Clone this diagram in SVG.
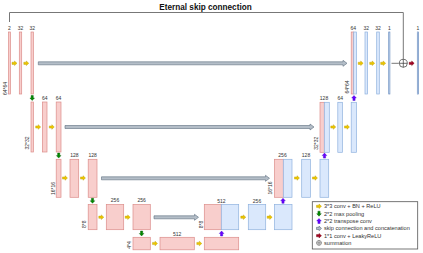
<svg xmlns="http://www.w3.org/2000/svg" xmlns:xlink="http://www.w3.org/1999/xlink" width="423" height="253" viewBox="0 0 423 253">
<style>
.enc{fill:#f8cecc;stroke:#dc8d8a;stroke-width:0.7}
.dec{fill:#dae8fc;stroke:#8fb1de;stroke-width:0.7}
.thin{fill:#dae8fc;stroke:#6c8ebf;stroke-width:0.7}
.lbl{font-family:"Liberation Sans",Arial,sans-serif;font-size:5px;fill:#333;text-anchor:middle}
.rot{font-family:"Liberation Sans",Arial,sans-serif;font-size:5px;fill:#333;text-anchor:middle;dominant-baseline:central}
.leg{font-family:"Liberation Sans",Arial,sans-serif;font-size:5.6px;fill:#333}
.title{font-family:"Liberation Sans",Arial,sans-serif;font-size:8.2px;font-weight:bold;fill:#111;text-anchor:middle}
.skip{fill:#b4bec8;stroke:#5c6d7e;stroke-width:0.6}
.y{fill:#ecc600;stroke:#b89a00;stroke-width:0.4}
.g{fill:#008a00;stroke:#005700;stroke-width:0.4}
.p{fill:#6a00ff;stroke:#3700cc;stroke-width:0.4}
.r{fill:#a20025;stroke:#6f0000;stroke-width:0.4}
.line{fill:none;stroke:#777;stroke-width:1}
.sum{fill:#fff;stroke:#333;stroke-width:0.7}
</style>
<defs>
<path id="arr" d="M-2.5,-1.1H0V-2.3L2.5,0L0,2.3V1.1H-2.5Z"/>
</defs>

<text class="title" x="205.5" y="9.5">Eternal skip connection</text>

<!-- Encoder level 1 -->
<g id="e1a"><rect class="enc" x="8.5" y="32" width="2" height="62"/><text class="lbl" x="9.5" y="30.3">2</text></g>
<g id="e1b"><rect class="enc" x="19.3" y="32" width="2.4" height="62"/><text class="lbl" x="20.5" y="30.3">32</text></g>
<g id="e1c"><rect class="enc" x="31" y="32" width="2.5" height="62"/><text class="lbl" x="32.2" y="30.3">32</text></g>
<text class="rot" transform="translate(5.3,88.5) rotate(-90)">64*64</text>

<!-- Encoder level 2 -->
<g id="e2a"><rect class="enc" x="31" y="102" width="2.5" height="50"/></g>
<g id="e2b"><rect class="enc" x="42.4" y="102" width="4.6" height="50"/><text class="lbl" x="44.7" y="100">64</text></g>
<g id="e2c"><rect class="enc" x="56.2" y="102" width="4.8" height="50"/><text class="lbl" x="58.6" y="100">64</text></g>
<text class="rot" transform="translate(26.8,143) rotate(-90)">32*32</text>

<!-- Encoder level 3 -->
<g id="e3a"><rect class="enc" x="56.2" y="159.3" width="4.8" height="38"/></g>
<g id="e3b"><rect class="enc" x="70" y="159.3" width="8.7" height="38"/><text class="lbl" x="74.3" y="157.4">128</text></g>
<g id="e3c"><rect class="enc" x="88.2" y="159.3" width="8.8" height="38"/><text class="lbl" x="92.6" y="157.4">128</text></g>
<text class="rot" transform="translate(52.5,188.5) rotate(-90)">16*16</text>

<!-- Encoder level 4 -->
<g id="e4a"><rect class="enc" x="88.2" y="204.5" width="8.8" height="25.2"/></g>
<g id="e4b"><rect class="enc" x="106.3" y="204.5" width="17.4" height="25.2"/><text class="lbl" x="115" y="202.4">256</text></g>
<g id="e4c"><rect class="enc" x="133" y="204.5" width="17.3" height="25.2"/><text class="lbl" x="141.7" y="202.4">256</text></g>
<text class="rot" transform="translate(84.2,224.3) rotate(-90)">8*8</text>

<!-- Bottleneck level 5 -->
<g id="e5a"><rect class="enc" x="133" y="237.3" width="17.3" height="12.5"/></g>
<g id="e5b"><rect class="enc" x="160" y="237.3" width="34.3" height="12.5"/><text class="lbl" x="177.2" y="235.7">512</text></g>
<g id="e5c"><rect class="enc" x="204.3" y="237.3" width="34.4" height="12.5"/></g>
<text class="rot" transform="translate(129,245) rotate(-90)">4*4</text>

<!-- Decoder level 4 -->
<g id="d4a"><rect class="enc" x="204.3" y="204.5" width="17" height="25.2"/><rect class="dec" x="221.3" y="204.5" width="17.4" height="25.2"/><text class="lbl" x="221.3" y="202.6">512</text></g>
<g id="d4b"><rect class="dec" x="248.3" y="204.5" width="17.4" height="25.2"/><text class="lbl" x="257" y="202.6">256</text></g>
<g id="d4c"><rect class="dec" x="274.5" y="204.5" width="17.5" height="25.2"/></g>
<text class="rot" transform="translate(200.8,224.5) rotate(-90)">8*8</text>

<!-- Decoder level 3 -->
<g id="d3a"><rect class="enc" x="274.5" y="159.3" width="8.8" height="38"/><rect class="dec" x="283.3" y="159.3" width="8.7" height="38"/><text class="lbl" x="282.5" y="157.4">256</text></g>
<g id="d3b"><rect class="dec" x="301.7" y="159.3" width="8.7" height="38"/><text class="lbl" x="306" y="157.4">128</text></g>
<g id="d3c"><rect class="dec" x="320" y="159.3" width="8.7" height="38"/></g>
<text class="rot" transform="translate(269.8,188) rotate(-90)">16*16</text>

<!-- Decoder level 2 -->
<g id="d2a"><rect class="enc" x="320" y="102.3" width="4.3" height="50"/><rect class="dec" x="324.3" y="102.3" width="5" height="50"/><text class="lbl" x="324" y="100">128</text></g>
<g id="d2b"><rect class="dec" x="337.8" y="102.3" width="4.6" height="50"/><text class="lbl" x="340.2" y="100">64</text></g>
<g id="d2c"><rect class="dec" x="351.2" y="102.3" width="5.3" height="50"/></g>
<text class="rot" transform="translate(315.7,143.3) rotate(-90)">32*32</text>

<!-- Decoder level 1 -->
<g id="d1a"><rect class="enc" x="351.2" y="32" width="2.5" height="62"/><rect class="dec" x="353.7" y="32" width="2.8" height="62"/><text class="lbl" x="353.3" y="30.3">64</text></g>
<g id="d1b"><rect class="dec" x="365" y="32" width="2.6" height="62"/><text class="lbl" x="366.3" y="30.3">32</text></g>
<g id="d1c"><rect class="dec" x="376.7" y="32" width="2.6" height="62"/><text class="lbl" x="378" y="30.3">32</text></g>
<g id="d1d"><rect class="thin" x="388.7" y="32" width="1.2" height="62"/><text class="lbl" x="389.3" y="30.3">1</text></g>
<g id="sum"><circle class="sum" cx="403.3" cy="63.3" r="4"/><path d="M399.3,63.3H407.3M403.3,59.3V67.3" stroke="#333" stroke-width="0.7"/></g>
<g id="out"><rect class="thin" x="417.3" y="32" width="1.3" height="62"/><text class="lbl" x="418" y="30.3">1</text></g>
<text class="rot" transform="translate(346.7,87) rotate(-90)">64*64</text>

<!-- Connectors -->
<g id="connectors">
<path class="line" d="M9.5,22V12.5H403.3V59.3"/>
<path class="line" d="M391.5,63.3H398.8"/>
<path class="skip" d="M38.3,61.8H343V60.3L347,63.3L343,66.3V64.8H38.3Z"/>
<path class="skip" d="M65,125.5H310V124L314,127L310,130V128.5H65Z"/>
<path class="skip" d="M101.5,176.8H265.5V175.3L269.5,178.3L265.5,181.3V179.8H101.5Z"/>
<path class="skip" d="M154,215.8H194.5V214.3L198.5,217.3L194.5,220.3V218.8H154Z"/>
<use class="y" xlink:href="#arr" href="#arr" x="14.5" y="63.3"/>
<use class="y" xlink:href="#arr" href="#arr" x="26.3" y="63.3"/>
<use class="y" xlink:href="#arr" href="#arr" x="38.2" y="127"/>
<use class="y" xlink:href="#arr" href="#arr" x="51.8" y="127"/>
<use class="y" xlink:href="#arr" href="#arr" x="65" y="178"/>
<use class="y" xlink:href="#arr" href="#arr" x="83" y="178"/>
<use class="y" xlink:href="#arr" href="#arr" x="101.3" y="217.2"/>
<use class="y" xlink:href="#arr" href="#arr" x="127.7" y="217.2"/>
<use class="y" xlink:href="#arr" href="#arr" x="155" y="243.5"/>
<use class="y" xlink:href="#arr" href="#arr" x="199.3" y="243.5"/>
<use class="y" xlink:href="#arr" href="#arr" x="243.3" y="217.2"/>
<use class="y" xlink:href="#arr" href="#arr" x="269.7" y="217.2"/>
<use class="y" xlink:href="#arr" href="#arr" x="297" y="178"/>
<use class="y" xlink:href="#arr" href="#arr" x="315" y="178"/>
<use class="y" xlink:href="#arr" href="#arr" x="333.3" y="127"/>
<use class="y" xlink:href="#arr" href="#arr" x="347" y="127"/>
<use class="y" xlink:href="#arr" href="#arr" x="360.7" y="63.3"/>
<use class="y" xlink:href="#arr" href="#arr" x="372.2" y="63.3"/>
<use class="y" xlink:href="#arr" href="#arr" x="383.2" y="63.3"/>
<use class="g" xlink:href="#arr" href="#arr" transform="translate(32.2,98) rotate(90)"/>
<use class="g" xlink:href="#arr" href="#arr" transform="translate(58.7,155.6) rotate(90)"/>
<use class="g" xlink:href="#arr" href="#arr" transform="translate(92.5,200.8) rotate(90)"/>
<use class="g" xlink:href="#arr" href="#arr" transform="translate(141.6,233.5) rotate(90)"/>
<use class="p" xlink:href="#arr" href="#arr" transform="translate(221.6,233.5) rotate(-90)"/>
<use class="p" xlink:href="#arr" href="#arr" transform="translate(283,200.8) rotate(-90)"/>
<use class="p" xlink:href="#arr" href="#arr" transform="translate(324.5,155.6) rotate(-90)"/>
<use class="p" xlink:href="#arr" href="#arr" transform="translate(354,98) rotate(-90)"/>
<use class="r" xlink:href="#arr" href="#arr" x="411.7" y="63.3"/>
</g>

<!-- Legend -->
<g id="legend">
<rect x="312.3" y="201.7" width="105.4" height="47.3" fill="#fff" stroke="#555" stroke-width="0.8"/>
<use class="y" xlink:href="#arr" href="#arr" x="319" y="206.3"/>
<text class="leg" x="324" y="208.3">3*3 conv + BN + ReLU</text>
<use class="g" xlink:href="#arr" href="#arr" transform="translate(319,213.7) rotate(90)"/>
<text class="leg" x="324" y="215.7">2*2 max pooling</text>
<use class="p" xlink:href="#arr" href="#arr" transform="translate(319,221) rotate(-90)"/>
<text class="leg" x="324" y="223">2*2 transpose conv</text>
<use class="skip" xlink:href="#arr" href="#arr" x="319" y="228.4"/>
<text class="leg" x="324" y="230.4">skip connection and concatenation</text>
<use class="r" xlink:href="#arr" href="#arr" x="319" y="235.7"/>
<text class="leg" x="324" y="237.7">1*1 conv + LeakyReLU</text>
<circle cx="319" cy="242.9" r="2.4" fill="#fff" stroke="#333" stroke-width="0.5"/>
<path d="M316.6,242.9H321.4M319,240.5V245.3" stroke="#333" stroke-width="0.5"/>
<text class="leg" x="324" y="244.9">summation</text>
</g>
</svg>
